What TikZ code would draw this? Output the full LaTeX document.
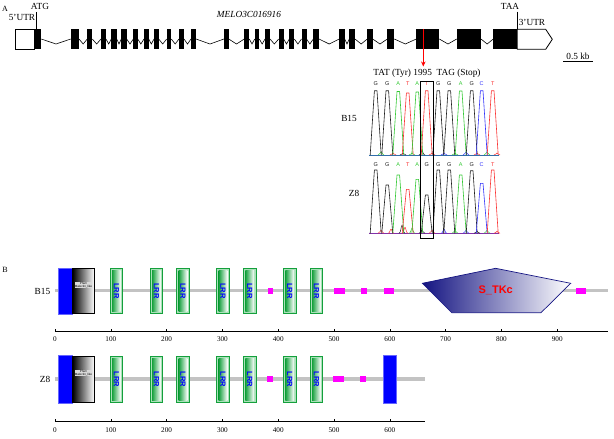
\documentclass[tikz,border=0pt]{standalone}
\usepackage{fontspec}
\setmainfont{Liberation Serif}
\setsansfont{Liberation Sans}
\usetikzlibrary{arrows.meta}
\definecolor{trG}{RGB}{30,30,30}
\definecolor{trA}{RGB}{50,200,50}
\definecolor{trT}{RGB}{250,50,50}
\definecolor{trC}{RGB}{50,50,250}
\definecolor{bbgray}{RGB}{195,195,195}
\definecolor{mag}{RGB}{255,0,255}
\definecolor{lrrdark}{RGB}{20,160,60}
\definecolor{lrrlight}{RGB}{170,225,185}
\definecolor{navyk}{RGB}{20,20,130}
\newcommand{\pk}[4]{\draw[#1,line width=0.6pt,line join=round] (#2-5.5,#4) -- (#2-1.3,#3) -- (#2+1.3,#3) -- (#2+5.5,#4);}
\newcommand{\nz}[4]{\draw[#1,line width=0.5pt] (#2-3,#4) .. controls (#2-1,#4) and (#2-1,#4-#3) .. (#2,#4-#3) .. controls (#2+1,#4-#3) and (#2+1,#4) .. (#2+3,#4);}
\newcommand{\lrrbox}[3]{%
  \fill[lrrlight] (#1,#2) rectangle (#1+12.7,#3);
  \draw[lrrdark,line width=0.5pt] (#1,#2) rectangle (#1+12.7,#3);
  \shade[left color=lrrdark,right color=white] (#1+2,#2+2) rectangle (#1+10.7,#3-2);
  \node[lrrtxt] at (#1+6.35,{(#2+#3)/2}) {LRR};}
\begin{document}
\begin{tikzpicture}[x=1pt,y=-1pt,
  lbl/.style={inner sep=0pt,font=\fontsize{9.3}{10}\selectfont},
  axl/.style={inner sep=0pt,font=\fontsize{7.2}{8}\selectfont},
  base/.style={inner sep=0pt,font=\sffamily\fontsize{5.5}{6}\selectfont},
  lrrtxt/.style={inner sep=0pt,rotate=-90,text=blue,font=\sffamily\bfseries\fontsize{7.5}{8}\selectfont},
  intron/.style={line width=0.6pt,black}]
\useasboundingbox (0,0) rectangle (614,439);
% ---------- Part A: gene structure ----------
\node[lbl,font=\fontsize{8}{9}\selectfont] (labA) at (5,9) {A};
\node[lbl] (atg) at (40,6) {ATG};
\node[lbl] (utr5) at (22,17) {5'UTR};
\node[lbl,font=\itshape\fontsize{9.3}{10}\selectfont] (gname) at (249,14) {MELO3C016916};
\node[lbl] (taa) at (510,6.5) {TAA};
\node[lbl] (utr3) at (532,22.5) {3'UTR};
\draw[line width=0.6pt] (36,12) -- (36,29.3);
\draw[line width=0.6pt] (517.3,11.7) -- (517.3,29.3);
\foreach \a/\b in {41.3/70.7, 79/87.3, 92.3/101, 106/111.3, 116.7/121.3, 126.7/133.3, 137.7/144, 148.7/154, 158.7/166.7, 171.3/179, 184/191, 196/224, 228.7/244.3, 249.3/254.7, 259.3/265, 270/278.7, 283.7/289.3, 294.3/301.5, 306.5/313.3, 319/339.3, 344.7/349.3, 355/367.3, 372.7/387.3, 394.3/416.3, 439.3/456.7, 481/493.3}
  {\draw[intron] (\a,39) -- ({(\a+\b)/2},44) -- (\b,39);}
\draw[line width=0.8pt,fill=white] (15.5,29.3) rectangle (34.3,49.3);
\draw[line width=0.8pt,fill=white] (517.3,29.3) -- (545.7,29.3) -- (552.3,39.3) -- (545.7,49.3) -- (517.3,49.3) -- cycle;
\foreach \a/\b in {34.3/41.3, 70.7/79, 87.3/92.3, 101/106, 111.3/116.7, 121.3/126.7, 133.3/137.7, 144/148.7, 154/158.7, 166.7/171.3, 179/184, 191/196, 224/228.7, 244.3/249.3, 254.7/259.3, 265/270, 278.7/283.7, 289.3/294.3, 301.5/306.5, 313.3/319, 339.3/344.7, 349.3/355, 367.3/372.7, 387.3/394.3, 416.3/439.3, 456.7/481, 493.3/517.3}
  {\fill[black] (\a,29.3) rectangle (\b,49.3);}
\draw[red,line width=1.3pt,-{Stealth[length=5pt,width=4.5pt]}] (423.3,29.3) -- (423.3,66.5);
\node[lbl] (mut) at (427,73.5) {TAT (Tyr) 1995\ \ TAG (Stop)};
\node[lbl] (kb) at (578,56.5) {0.5 kb};
\draw[line width=0.7pt] (563,61.5) -- (593,61.5);
% ---------- chromatograms ----------
\node[lbl] (cB15) at (349,118.3) {B15};
\node[lbl] (cZ8) at (354,193.3) {Z8};
\foreach \x/\cc/\l in {375.7/trG/G, 387.3/trG/G, 398.3/trA/A, 407.7/trT/T, 417.3/trA/A, 426.7/trT/T, 438.3/trG/G, 449.3/trG/G, 460.7/trA/A, 471.7/trG/G, 481.7/trC/C, 492.7/trT/T}
  {\node[base,text=\cc] at (\x,84) {\l};}
\foreach \x/\cc/\l in {375.7/trG/G, 387.3/trG/G, 398.3/trA/A, 407.7/trT/T, 417.3/trA/A, 426.7/trG/G, 438.3/trG/G, 449.3/trG/G, 460.7/trA/A, 471.7/trG/G, 481.7/trC/C, 492.7/trT/T}
  {\node[base,text=\cc] at (\x,165) {\l};}
\draw[trC!60!trA,line width=0.5pt] (369,155) -- (499,155);
\draw[trC!60!trT,line width=0.5pt] (369,233.3) -- (499,233.3);
\foreach \x/\cc/\h in {381/trA/3, 393/trT/2, 403/trG/2, 412/trA/2, 422/trG/4, 432/trT/2, 444/trC/2, 455/trA/2, 466/trC/3, 477/trT/2, 487/trA/3, 497/trT/2}
  {\nz{\cc}{\x}{\h}{155}}
\foreach \x/\cc/\h in {381/trT/3, 391/trT/4, 402/trG/8, 405/trT/6, 412/trA/5, 422/trG/3, 432/trT/3, 444/trC/4, 455/trA/3, 466/trC/3, 477/trG/2, 487/trA/3, 497/trT/2}
  {\nz{\cc}{\x}{\h}{233.3}}
\foreach \x/\cc/\tp in {375.7/trG/90.7, 387.3/trG/90.7, 398.3/trA/91.5, 407.7/trT/93, 417.3/trA/92, 426.7/trT/90.7, 438.3/trG/90.7, 449.3/trG/90.7, 460.7/trA/91, 471.7/trG/90.7, 481.7/trC/90.7, 492.7/trT/90.7}
  {\pk{\cc}{\x}{\tp}{155}}
\foreach \x/\cc/\tp in {375.7/trG/170, 387.3/trG/185, 398.3/trA/175, 407.7/trT/189.3, 417.3/trA/179.3, 426.7/trG/195, 438.3/trG/170, 449.3/trG/170, 460.7/trA/175, 471.7/trG/170.7, 481.7/trC/183.3, 492.7/trT/170}
  {\pk{\cc}{\x}{\tp}{233.3}}
\draw[line width=0.8pt] (420.7,81.7) rectangle (433.3,238.3);
% ---------- Part B: protein domains ----------
\node[lbl,font=\fontsize{8}{9}\selectfont] (labB) at (5,270) {B};
\node[lbl] (pB15) at (42.5,291.7) {B15};
\node[lbl] (pZ8) at (45,379) {Z8};
\draw[bbgray,line width=3.5pt] (55,290.7) -- (607.7,290.7);
\draw[bbgray,line width=3.5pt] (55,379) -- (425,379);
\fill[blue] (58.3,267.7) rectangle (71.7,314.3);
\draw[blue!60,line width=0.4pt] (58.3,267.7) rectangle (71.7,314.3);
\shade[left color=black,right color=white] (72.7,268.7) rectangle (94.3,313.3);
\draw[black,line width=0.7pt] (72.7,268.7) rectangle (94.3,313.3);
\node[inner sep=0.3pt,fill=white!85!black,align=center,font=\sffamily\fontsize{3}{3.3}\selectfont] (pf1) at (83.5,285) {Pfam\\Malectin\_like};
\foreach \x in {110,150,176.7,216.7,243.3,283.3,310} {\lrrbox{\x}{268.3}{313.3}}
\foreach \a/\b in {267.7/273.3, 334/345, 360.7/366.7, 384.3/394, 575.7/585.7}
  {\fill[mag] (\a,287.7) rectangle (\b,293.7);}
\shade[left color=navyk,right color=white] (422.3,283.3) -- (495.7,268.3) -- (570.7,283.3) -- (541,312.7) -- (451.7,312.7) -- cycle;
\draw[navyk,line width=0.7pt] (422.3,283.3) -- (495.7,268.3) -- (570.7,283.3) -- (541,312.7) -- (451.7,312.7) -- cycle;
\node[inner sep=0pt,text=red,font=\sffamily\bfseries\fontsize{11}{12}\selectfont] (stk) at (495.7,290.7) {S\_TKc};
\draw[line width=0.7pt] (55,331.7) -- (607.7,331.7);
\foreach \v in {0,100,...,900} {
  \draw[line width=0.6pt] ({55+0.558*\v},331.7) -- ({55+0.558*\v},328.5);
  \node[axl] at ({55+0.558*\v},339) {\v};}
\fill[blue] (58.3,355) rectangle (71.7,403.3);
\draw[blue!60,line width=0.4pt] (58.3,355) rectangle (71.7,403.3);
\shade[left color=black,right color=white] (72.7,356) rectangle (94.3,402.3);
\draw[black,line width=0.7pt] (72.7,356) rectangle (94.3,402.3);
\node[inner sep=0.3pt,fill=white!85!black,align=center,font=\sffamily\fontsize{3}{3.3}\selectfont] (pf2) at (83.5,373) {Pfam\\Malectin\_like};
\foreach \x in {110,150,176.7,216.7,243.3,283.3,310} {\lrrbox{\x}{356}{402.3}}
\foreach \a/\b in {267.3/273.3, 333.3/344, 360/366}
  {\fill[mag] (\a,376.3) rectangle (\b,381.8);}
\fill[blue] (383.3,355) rectangle (396,403.3);
\draw[blue!60,line width=0.4pt] (383.3,355) rectangle (396,403.3);
\draw[line width=0.7pt] (55,421.7) -- (425,421.7);
\foreach \v in {0,100,...,600} {
  \draw[line width=0.6pt] ({55+0.558*\v},421.7) -- ({55+0.558*\v},418.5);
  \node[axl] at ({55+0.558*\v},430) {\v};}
\end{tikzpicture}
\end{document}
